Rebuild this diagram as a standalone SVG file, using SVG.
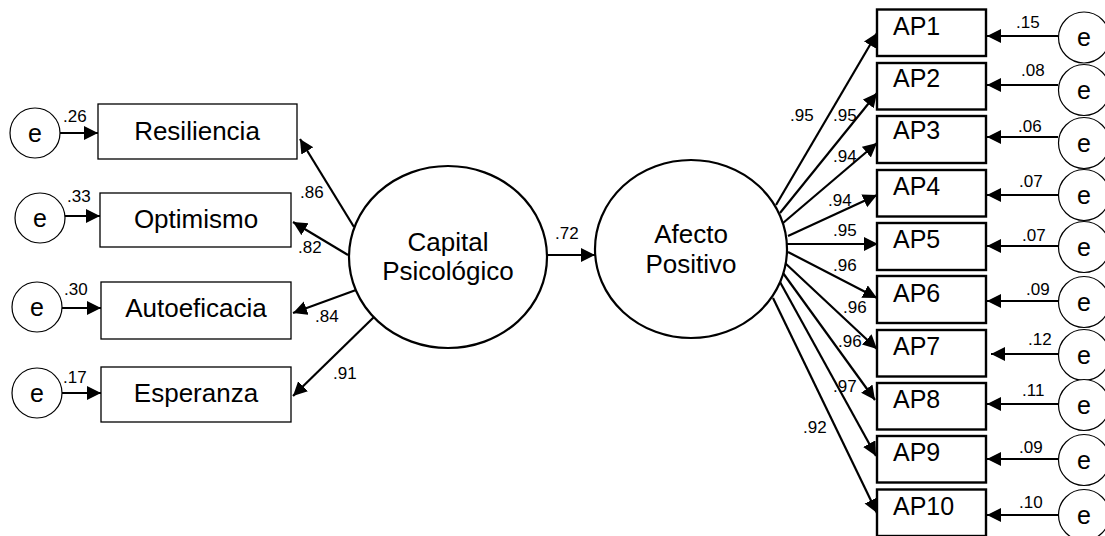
<svg xmlns="http://www.w3.org/2000/svg" width="1105" height="536" viewBox="0 0 1105 536">
<defs>
<style>
.bg{fill:#fff}
.box{fill:#fff;stroke:#000;stroke-width:1.3}
.apbox{fill:#fff;stroke:#000;stroke-width:2.4}
.err{fill:#fff;stroke:#000;stroke-width:1.2}
.lat{fill:#fff;stroke:#000;stroke-width:2.2}
.lbl{font-family:"Liberation Sans",Arial,sans-serif;font-size:26px;fill:#000}
.ap{font-family:"Liberation Sans",Arial,sans-serif;font-size:25px;fill:#000}
.e{font-family:"Liberation Sans",Arial,sans-serif;font-size:25px;fill:#000;text-anchor:middle}
.num{font-family:"Liberation Sans",Arial,sans-serif;font-size:17px;fill:#000}
.mid{text-anchor:middle}
.c{stroke:#000;stroke-width:2.2;fill:none;marker-end:url(#arr)}
</style>
<marker id="arr" markerUnits="userSpaceOnUse" markerWidth="16" markerHeight="16" refX="14" refY="7" orient="auto">
<path d="M0,0 L14,7 L0,14 z" fill="#000"/>
</marker>
</defs>
<rect class="bg" x="0" y="0" width="1105" height="536"/>

<g id="connectors">
<!-- left errors to boxes -->
<line class="c" x1="60" y1="133" x2="98" y2="133"/>
<line class="c" x1="65" y1="216" x2="100" y2="216"/>
<line class="c" x1="62" y1="308" x2="101" y2="308"/>
<line class="c" x1="62" y1="393" x2="101" y2="393"/>
<!-- capital to indicators -->
<line class="c" x1="354" y1="227" x2="300" y2="139"/>
<line class="c" x1="348" y1="255" x2="293" y2="222"/>
<line class="c" x1="356" y1="290" x2="293" y2="313"/>
<line class="c" x1="374" y1="317" x2="293" y2="396"/>
<!-- capital to afecto -->
<line class="c" x1="547" y1="255" x2="595" y2="255"/>
<!-- afecto to AP -->
<line class="c" x1="776" y1="205" x2="877" y2="33"/>
<line class="c" x1="780" y1="213" x2="877" y2="93"/>
<line class="c" x1="783" y1="223" x2="877" y2="143"/>
<line class="c" x1="788" y1="236" x2="877" y2="195"/>
<line class="c" x1="787" y1="244" x2="878" y2="244"/>
<line class="c" x1="788" y1="252" x2="877" y2="298"/>
<line class="c" x1="785" y1="263" x2="877" y2="349"/>
<line class="c" x1="783" y1="273" x2="875" y2="400"/>
<line class="c" x1="780" y1="282" x2="876" y2="456"/>
<line class="c" x1="773" y1="298" x2="877" y2="513"/>
<!-- right errors to AP -->
<line class="c" x1="1058" y1="36" x2="987" y2="36"/>
<line class="c" x1="1058" y1="85" x2="987" y2="85"/>
<line class="c" x1="1058" y1="137" x2="987" y2="137"/>
<line class="c" x1="1058" y1="195" x2="987" y2="195"/>
<line class="c" x1="1058" y1="246" x2="987" y2="246"/>
<line class="c" x1="1058" y1="301" x2="987" y2="301"/>
<line class="c" x1="1058" y1="354" x2="991" y2="354"/>
<line class="c" x1="1058" y1="404" x2="987" y2="404"/>
<line class="c" x1="1058" y1="459" x2="987" y2="459"/>
<line class="c" x1="1058" y1="515" x2="987" y2="515"/>
</g>

<g id="coef">
<text class="num" x="63" y="122">.26</text>
<text class="num" x="67" y="202">.33</text>
<text class="num" x="64" y="295">.30</text>
<text class="num" x="63" y="383">.17</text>
<text class="num" x="300" y="198">.86</text>
<text class="num" x="298" y="253">.82</text>
<text class="num" x="315" y="322">.84</text>
<text class="num" x="333" y="379">.91</text>
<text class="num" x="555" y="239">.72</text>
<text class="num" x="790" y="121">.95</text>
<text class="num" x="833" y="121">.95</text>
<text class="num" x="833" y="162">.94</text>
<text class="num" x="828" y="206">.94</text>
<text class="num" x="833" y="236">.95</text>
<text class="num" x="833" y="271">.96</text>
<text class="num" x="843" y="313">.96</text>
<text class="num" x="838" y="347">.96</text>
<text class="num" x="833" y="392">.97</text>
<text class="num" x="803" y="433">.92</text>
<text class="num" x="1016" y="28">.15</text>
<text class="num" x="1021" y="76">.08</text>
<text class="num" x="1018" y="132">.06</text>
<text class="num" x="1019" y="187">.07</text>
<text class="num" x="1022" y="241">.07</text>
<text class="num" x="1026" y="295">.09</text>
<text class="num" x="1028" y="345">.12</text>
<text class="num" x="1022" y="396">.11</text>
<text class="num" x="1019" y="453">.09</text>
<text class="num" x="1019" y="508">.10</text>
</g>

<g id="e_res"><circle class="err" cx="35" cy="133" r="25"/><text class="e" x="35" y="142">e</text></g>
<g id="e_opt"><circle class="err" cx="40" cy="218" r="25"/><text class="e" x="40" y="227">e</text></g>
<g id="e_aut"><circle class="err" cx="37" cy="307" r="25"/><text class="e" x="37" y="316">e</text></g>
<g id="e_esp"><circle class="err" cx="37" cy="393" r="25"/><text class="e" x="37" y="402">e</text></g>

<g id="resiliencia"><rect class="box" x="98" y="104" width="199" height="55"/><text class="lbl mid" x="197" y="140">Resiliencia</text></g>
<g id="optimismo"><rect class="box" x="100" y="193" width="191" height="54"/><text class="lbl mid" x="196" y="228">Optimismo</text></g>
<g id="autoeficacia"><rect class="box" x="101" y="282" width="190" height="57"/><text class="lbl mid" x="196" y="317">Autoeficacia</text></g>
<g id="esperanza"><rect class="box" x="101" y="367" width="190" height="55"/><text class="lbl mid" x="196" y="402">Esperanza</text></g>

<g id="capital"><ellipse class="lat" cx="448" cy="257" rx="99" ry="91"/><text class="lbl mid" x="448" y="251">Capital</text><text class="lbl mid" x="448" y="280">Psicológico</text></g>
<g id="afecto"><ellipse class="lat" cx="691" cy="249" rx="96" ry="89"/><text class="lbl mid" x="691" y="243">Afecto</text><text class="lbl mid" x="691" y="273">Positivo</text></g>

<g id="ap1"><rect class="apbox" x="877" y="9.5" width="109" height="46.5"/><text class="ap" x="893" y="35">AP1</text></g>
<g id="ap2"><rect class="apbox" x="877" y="63" width="109" height="46.5"/><text class="ap" x="893" y="87">AP2</text></g>
<g id="ap3"><rect class="apbox" x="877" y="116" width="109" height="47"/><text class="ap" x="893" y="139">AP3</text></g>
<g id="ap4"><rect class="apbox" x="877" y="170" width="109" height="46.5"/><text class="ap" x="893" y="195">AP4</text></g>
<g id="ap5"><rect class="apbox" x="877" y="223" width="109" height="47"/><text class="ap" x="893" y="248">AP5</text></g>
<g id="ap6"><rect class="apbox" x="877" y="276" width="109" height="47"/><text class="ap" x="893" y="302">AP6</text></g>
<g id="ap7"><rect class="apbox" x="877" y="330" width="109" height="46.5"/><text class="ap" x="893" y="355">AP7</text></g>
<g id="ap8"><rect class="apbox" x="877" y="383" width="109" height="46.5"/><text class="ap" x="893" y="408">AP8</text></g>
<g id="ap9"><rect class="apbox" x="877" y="436" width="109" height="46.5"/><text class="ap" x="893" y="461">AP9</text></g>
<g id="ap10"><rect class="apbox" x="877" y="489.5" width="109" height="46.5"/><text class="ap" x="893" y="515">AP10</text></g>

<g id="e_ap1"><circle class="err" cx="1084" cy="37.5" r="25.5"/><text class="e" x="1084" y="46">e</text></g>
<g id="e_ap2"><circle class="err" cx="1084" cy="90" r="25.5"/><text class="e" x="1084" y="99">e</text></g>
<g id="e_ap3"><circle class="err" cx="1084" cy="143" r="25.5"/><text class="e" x="1084" y="152">e</text></g>
<g id="e_ap4"><circle class="err" cx="1084" cy="195" r="25.5"/><text class="e" x="1084" y="204">e</text></g>
<g id="e_ap5"><circle class="err" cx="1084" cy="247" r="25.5"/><text class="e" x="1084" y="256">e</text></g>
<g id="e_ap6"><circle class="err" cx="1084" cy="302" r="25.5"/><text class="e" x="1084" y="311">e</text></g>
<g id="e_ap7"><circle class="err" cx="1084" cy="355" r="25.5"/><text class="e" x="1084" y="364">e</text></g>
<g id="e_ap8"><circle class="err" cx="1084" cy="405" r="25.5"/><text class="e" x="1084" y="414">e</text></g>
<g id="e_ap9"><circle class="err" cx="1084" cy="460" r="25.5"/><text class="e" x="1084" y="469">e</text></g>
<g id="e_ap10"><circle class="err" cx="1084" cy="515" r="25.5"/><text class="e" x="1084" y="524">e</text></g>
</svg>
